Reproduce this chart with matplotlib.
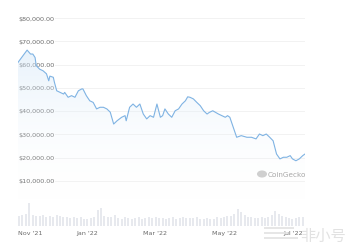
import matplotlib
matplotlib.use("Agg")
import matplotlib.pyplot as plt
import numpy as np
import pandas as pd
from matplotlib.patches import Circle, Rectangle

# price trace, day offsets from the start date
start = pd.Timestamp("2021-11-01")
days = [0, 8, 11, 13, 15, 16, 19, 22, 25, 27, 28, 31, 32, 34, 37, 40, 41, 44, 47, 50,
        53, 56, 57, 60, 63, 66, 69, 72, 75, 78, 81, 84, 87, 91, 94, 95, 98, 101, 104, 107,
        110, 113, 116, 119, 122, 125, 127, 129, 132, 135, 138, 141, 144, 147, 149, 151, 154, 157, 160, 163,
        166, 168, 171, 176, 179, 182, 184, 186, 189, 192, 196, 201, 205, 209, 212, 215, 218, 221, 224, 227,
        230, 233, 236, 239, 241, 244, 247, 250, 252]
prices = [60.9, 66.2, 64.5, 64.5, 63.0, 59.5, 58.0, 57.3, 56.0, 53.0, 55.0, 54.5, 52.3, 48.7, 48.0, 47.3, 48.0, 45.9, 46.6, 45.9,
          48.7, 49.5, 49.5, 46.6, 44.4, 43.7, 40.9, 41.6, 41.6, 40.9, 39.5, 34.4, 35.8, 37.3, 38.0, 35.8, 41.6, 43.0, 41.6, 43.0,
          38.7, 36.6, 38.0, 37.3, 43.0, 37.3, 38.0, 40.9, 38.7, 37.3, 40.1, 40.9, 43.0, 44.4, 46.1, 45.9, 45.2, 43.7, 42.3, 40.1,
          38.7, 39.4, 40.1, 38.7, 38.0, 37.3, 38.0, 37.3, 33.0, 28.7, 29.4, 28.7, 28.7, 28.0, 30.1, 29.4, 30.1, 28.7, 27.2, 21.5,
          19.4, 20.1, 20.1, 20.8, 19.4, 18.6, 19.4, 20.8, 21.5]
prices = [p * 1000 for p in prices]

# volume (billions USD), one bar every 3 days
vol_step = 3
volumes = [35, 38, 42, 80, 40, 36, 34, 38, 33, 36,
           32, 40, 35, 30, 33, 29, 31, 28, 30, 26,
           24, 27, 30, 56, 63, 35, 31, 30, 38, 28,
           26, 30, 27, 25, 29, 33, 26, 28, 30, 27,
           32, 29, 28, 25, 27, 30, 26, 28, 31, 27,
           29, 27, 32, 26, 24, 28, 26, 25, 30, 29,
           31, 34, 36, 42, 60, 49, 38, 33, 30, 28,
           29, 31, 27, 33, 38, 52, 42, 36, 30, 28,
           26, 29, 32, 30, 27]

y_ticks = [10000, 20000, 30000, 40000, 50000, 60000, 70000, 80000]
x_tick_dates = ["2021-11-01", "2022-01-01", "2022-03-01", "2022-05-01", "2022-07-01"]
x_tick_labels = ["Nov '21", "Jan '22", "Mar '22", "May '22", "Jul '22"]

dates = start + pd.to_timedelta(days, unit="D")
vol_dates = start + pd.to_timedelta(np.arange(len(volumes)) * vol_step, unit="D")
x0, x1 = start, start + pd.Timedelta(days=252)

W, H = 359, 253
fig = plt.figure(figsize=(W / 100, H / 100), dpi=100)

line_col = "#7fb3e3"
txt_col = "#6b6b6b"

ax = fig.add_axes([18 / W, (H - 205) / H, 287 / W, 186 / H])
ax.set_xlim(x0, x1)
ax.set_ylim(0, 80000)
for s in ax.spines.values():
    s.set_visible(False)
ax.set_xticks([])
ax.set_yticks([])
for v in y_ticks:
    ax.axhline(v, color="#f0f0f0", lw=0.6, zorder=0)
    ax.text(0, v, "${:,.2f}".format(v), transform=ax.get_yaxis_transform(),
            ha="left", va="center", fontsize=4.6, color=txt_col, zorder=1,
            bbox=dict(facecolor="white", edgecolor="none", pad=0.6))

# gradient fill under the line
poly = ax.fill_between(dates, prices, 0, color="none")
grad = np.linspace(0, 1, 256).reshape(-1, 1)
cmap = matplotlib.colors.LinearSegmentedColormap.from_list(
    "g", [(1, 1, 1, 0), (0.80, 0.89, 0.97, 0.5)])
num = matplotlib.dates.date2num
im = ax.imshow(grad, aspect="auto", cmap=cmap, origin="lower",
               extent=[num(x0), num(x1), 0, 70000], zorder=2)
im.set_clip_path(poly.get_paths()[0], transform=ax.transData)
ax.set_xlim(x0, x1)
ax.set_ylim(0, 80000)
ax.plot(dates, prices, color=line_col, lw=0.8, zorder=3)

# CoinGecko mark
fig.patches.append(Circle((262 / W, (H - 175) / H), 0.014, transform=fig.transFigure,
                          facecolor="#cfcfcf", edgecolor="none"))
fig.text(268 / W, (H - 175) / H, "CoinGecko", fontsize=5.2, color="#a8a8a8", va="center")

# volume panel
axv = fig.add_axes([18 / W, (H - 227) / H, 287 / W, 27 / H])
axv.set_xlim(x0, x1)
axv.set_ylim(0, 95)
axv.bar(vol_dates, volumes, width=1.8, color="#e7e9ee", align="edge")
for s in axv.spines.values():
    s.set_visible(False)
axv.set_yticks([])
axv.set_xticks(pd.to_datetime(x_tick_dates))
axv.set_xticklabels(x_tick_labels, fontsize=4.6, color=txt_col)
axv.tick_params(axis="x", length=0, pad=3)
axv.get_xticklabels()[0].set_ha("left")

# 非小号 watermark
for i, w in enumerate([30, 24, 34]):
    fig.patches.append(Rectangle((264 / W, (H - 230 - i * 5) / H), w / W, 2.2 / H,
                                 transform=fig.transFigure, facecolor="#e4e4e4",
                                 edgecolor="none", alpha=0.9, zorder=5))
fig.text(300 / W, (H - 236) / H, "非小号", fontsize=11, color="#e2e2e2", va="center",
         family=["Noto Sans CJK SC", "DejaVu Sans"], zorder=6)

fig.savefig("out.png", dpi=100)
